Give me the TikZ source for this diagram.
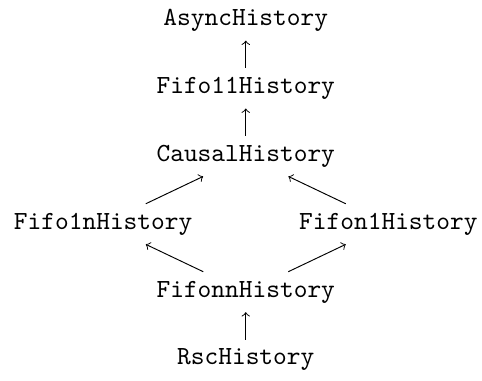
\documentclass[tikz,border=0pt,11pt]{standalone}
\usetikzlibrary{positioning}
\begin{document}
\begin{tikzpicture}[font=\ttfamily, on grid, node distance=1cm and 2.1cm,
   hist/.style={inner sep=0.3333em}]
  \node[hist] (async) {AsyncHistory};
  \node[hist, below=of async] (fifo11) {Fifo11History};
  \node[hist, below=of fifo11] (causal) {CausalHistory};
  \node[hist, below left=of causal] (fifo1n) {Fifo1nHistory};
  \node[hist, below right=of causal] (fifon1) {Fifon1History};
  \node[hist, below=2cm of causal] (fifonn) {FifonnHistory};
  \node[hist, below=of fifonn] (rsc) {RscHistory};
  % Pfeile von unten nach oben
  \draw[->] (fifo11) -- (async);
  \draw[->] (causal) -- (fifo11);
  \draw[->] (fifo1n) -- (causal);
  \draw[->] (fifon1) -- (causal);
  \draw[->] (fifonn) -- (fifo1n);
  \draw[->] (fifonn) -- (fifon1);
  \draw[->] (rsc) -- (fifonn);
  % Rand wie im Original (links etwas breiter)
  \pgfresetboundingbox
  \useasboundingbox ([xshift=-2pt]fifo1n.west |- async.north)
    rectangle ([xshift=-2pt]fifon1.east |- rsc.south);
\end{tikzpicture}
\end{document}
